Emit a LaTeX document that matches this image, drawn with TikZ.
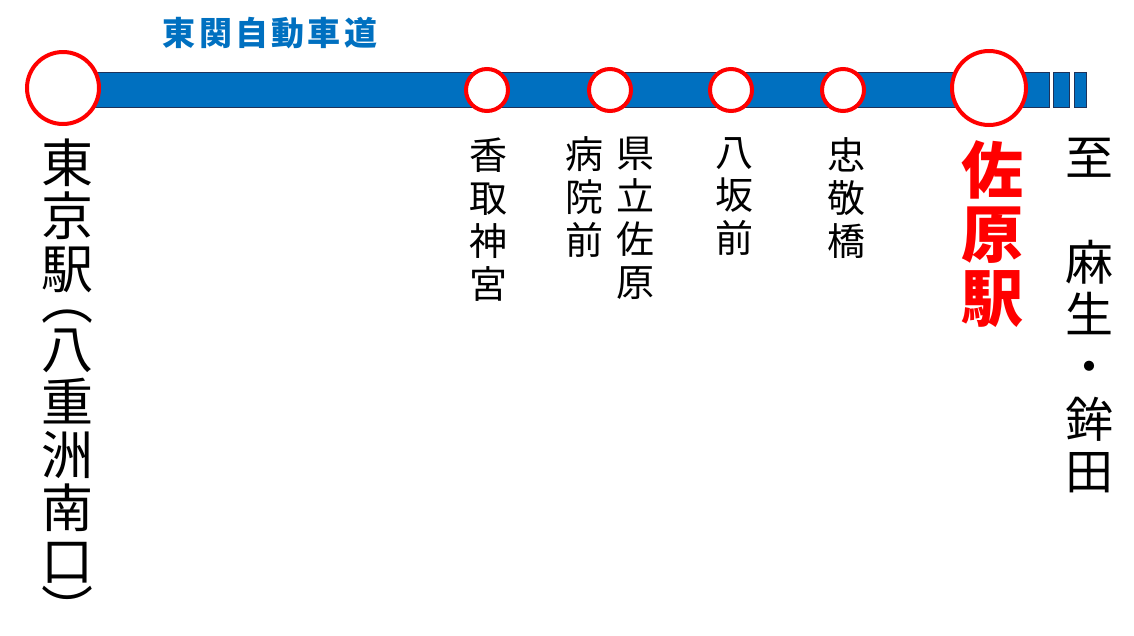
\documentclass[tikz,border=0pt]{standalone}
\usepackage{fontspec}
\usepackage{xcolor}
\newfontfamily\jpfont{Noto Sans CJK JP}
\definecolor{roadblue}{RGB}{0,112,192}
\definecolor{roadedge}{RGB}{30,50,90}
\newcommand{\vopen}{\raisebox{0pt}[0.3em][0pt]{︵}}
\newcommand{\vclose}{\raisebox{0pt}[0.85em][-0.45em]{︶}}

\begin{document}
\begin{tikzpicture}[x=1pt, y=-1pt,
  stop/.style={circle, draw=red, line width=4pt, fill=white, inner sep=0pt, minimum size=#1},
  stopname/.style={anchor=north, align=center, inner sep=0pt, font=\jpfont\fontsize{38}{43}\selectfont},
  roadbar/.style={fill=roadblue, draw=roadedge, line width=0.8pt}]
\useasboundingbox (0,0) rectangle (1134,635);

% Road
\draw[roadbar] (63,72) rectangle (1049,107);
\draw[roadbar] (1053,72) rectangle (1069,107);
\draw[roadbar] (1074,72) rectangle (1086,107);
\node[font=\jpfont\bfseries\fontsize{33}{33}\selectfont\addfontfeature{LetterSpace=10}, text=roadblue, inner sep=0pt] (road) at (270,33) {東関自動車道};

% Stops
\node[stop=72pt] (tokyo) at (63,88) {};
\node[stop=42pt] (katori) at (487,90) {};
\node[stop=42pt] (byoin) at (610,90) {};
\node[stop=42pt] (yasaka) at (731,90) {};
\node[stop=42pt] (chukei) at (843,90) {};
\node[stop=74pt] (sawara) at (989,88) {};

% Stop names
\node[stopname, font=\jpfont\fontsize{52}{53}\selectfont] (tokyoname) at (67,139)
  {東\\京\\駅\\[-22pt]\vopen\\[-4.5pt]八\\重\\洲\\南\\口\\[-4pt]\vclose};
\node[stopname] (katoriname) at (488,138) {香\\取\\神\\宮};
\node[stopname] (byoinname) at (584,136) {病\\院\\前};
\node[stopname] (kenritsuname) at (635,137) {県\\立\\佐\\原};
\node[stopname] (yasakaname) at (734,137) {八\\坂\\前};
\node[stopname] (chukeiname) at (846,137) {忠\\敬\\橋};
\node[stopname, font=\jpfont\bfseries\fontsize{62}{64}\selectfont, text=red] (sawaraname) at (992,140) {佐\\原\\駅};
\node[stopname, font=\jpfont\fontsize{48}{52.3}\selectfont] (dest) at (1089,138) {至\\　\\麻\\生\\・\\鉾\\田};
\end{tikzpicture}
\end{document}
